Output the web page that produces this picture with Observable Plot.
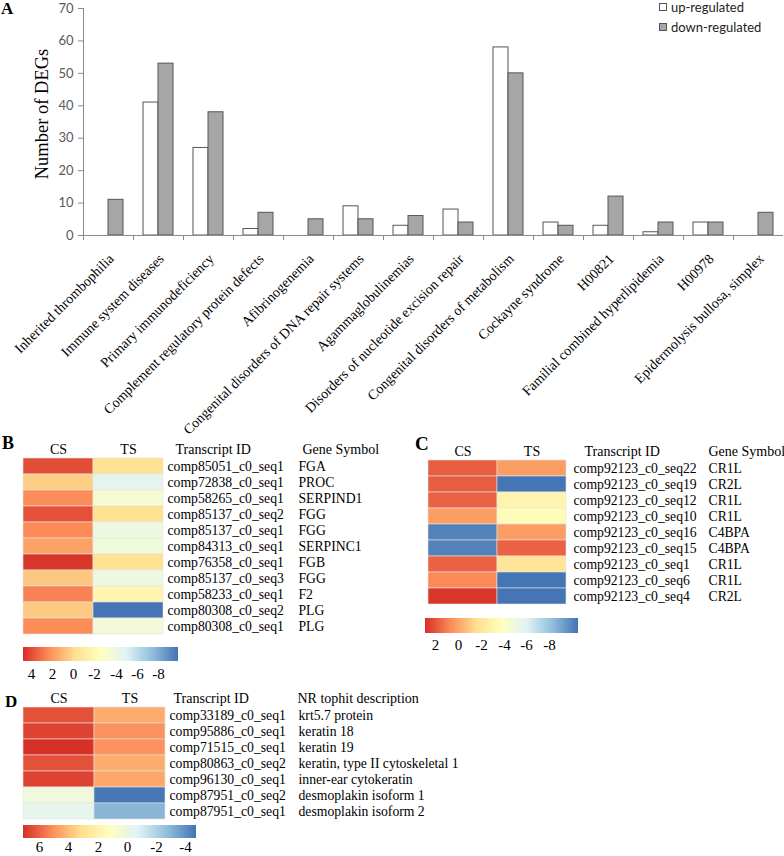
<!DOCTYPE html>
<html><head><meta charset="utf-8">
<script src="https://cdn.jsdelivr.net/npm/d3@7"></script>
<script src="https://cdn.jsdelivr.net/npm/@observablehq/plot@0.6"></script>
<style>
body{margin:0;background:#fff;}
#fig{position:relative;width:784px;height:856px;overflow:hidden;background:#fff;}
.abs{position:absolute;}
.abs svg g.tick line{display:none;}
.panel{position:absolute;font-family:"Liberation Serif",serif;font-weight:bold;line-height:1;color:#000;}
.lg{position:absolute;font-family:Lato,"Open Sans",sans-serif;font-size:13px;line-height:15px;color:#222;white-space:nowrap;}
.box{position:absolute;width:8px;height:8px;box-sizing:border-box;border:1px solid #555;}
</style></head><body><div id="fig"></div>
<script>
// ---------- Panel A data ----------
const categories = ["Inherited thrombophilia","Immune system diseases","Primary immunodeficiency",
  "Complement regulatory protein defects","Afibrinogenemia","Congenital disorders of DNA repair systems",
  "Agammaglobulinemias","Disorders of nucleotide excision repair","Congenital disorders of metabolism",
  "Cockayne syndrome","H00821","Familial combined hyperlipidemia","H00978","Epidermolysis bullosa, simplex"];
const upRegulated   = [0, 41, 27, 2, 0, 9, 3, 8, 58, 4, 3, 1, 4, 0];
const downRegulated = [11, 53, 38, 7, 5, 5, 6, 4, 50, 3, 12, 4, 4, 7];
const yTicks = [0, 10, 20, 30, 40, 50, 60, 70];
const seriesNames = ["up-regulated", "down-regulated"];
const yLabel = "Number of DEGs";

// ---------- Panel B data ----------
const bTranscripts = ["comp85051_c0_seq1","comp72838_c0_seq1","comp58265_c0_seq1","comp85137_c0_seq2",
  "comp85137_c0_seq1","comp84313_c0_seq1","comp76358_c0_seq1","comp85137_c0_seq3","comp58233_c0_seq1",
  "comp80308_c0_seq2","comp80308_c0_seq1"];
const bGenes = ["FGA","PROC","SERPIND1","FGG","FGG","SERPINC1","FGB","FGG","F2","PLG","PLG"];
const bCS = [4.0, 0.4, 2.3, 3.9, 2.4, 1.7, 4.6, 0.6, 2.6, 0.5, 2.3];
const bTS = [-0.2, -4.6, -3.3, -0.2, -4.0, -3.75, -0.2, -4.0, -1.8, -9.9, -3.6];
const bLegendTicks = [4, 2, 0, -2, -4, -6, -8];
const bRange = [-9.9, 4.75];

// ---------- Panel C data ----------
const cTranscripts = ["comp92123_c0_seq22","comp92123_c0_seq19","comp92123_c0_seq12","comp92123_c0_seq10",
  "comp92123_c0_seq16","comp92123_c0_seq15","comp92123_c0_seq1","comp92123_c0_seq6","comp92123_c0_seq4"];
const cGenes = ["CR1L","CR2L","CR1L","CR1L","C4BPA","C4BPA","CR1L","CR1L","CR2L"];
const cCS = [1.8, 1.8, 1.65, 0.2, -10.1, -10.1, 1.65, 0.7, 2.7];
const cTS = [0.2, -10.5, -3.0, -3.6, 0.2, 1.65, -1.95, -10.5, -10.5];
const cLegendTicks = [2, 0, -2, -4, -6, -8];
const cRange = [-10.5, 2.85];

// ---------- Panel D data ----------
const dTranscripts = ["comp33189_c0_seq1","comp95886_c0_seq1","comp71515_c0_seq1","comp80863_c0_seq2",
  "comp96130_c0_seq1","comp87951_c0_seq2","comp87951_c0_seq1"];
const dDescriptions = ["krt5.7 protein","keratin 18","keratin 19","keratin, type II cytoskeletal 1",
  "inner-ear cytokeratin","desmoplakin isoform 1","desmoplakin isoform 2"];
const dCS = [6.4, 6.7, 7.1, 6.4, 6.7, 0.2, -0.4];
const dTS = [4.4, 5.0, 5.0, 4.4, 4.5, -4.7, -3.0];
const dLegendTicks = [6, 4, 2, 0, -2, -4];
const dRange = [-4.74, 7.1];

const samples = ["CS", "TS"];
const palette = ["#d73027","#fc8d59","#fee090","#ffffbf","#e0f3f8","#91bfdb","#4575b4"];
const interpHiLo = d3.piecewise(d3.interpolateRgb, palette);            // red -> blue
const interpLoHi = d3.piecewise(d3.interpolateRgb, palette.slice().reverse()); // blue -> red
const SERIF = "'Liberation Serif', 'Times New Roman', serif";
const SANS = "Lato, 'Open Sans', sans-serif";

const fig = document.getElementById("fig");
function place(el, left, top) {
  const w = document.createElement("div");
  w.className = "abs"; w.style.left = left + "px"; w.style.top = top + "px";
  w.appendChild(el); fig.appendChild(w); return w;
}
function addText(cls, text, left, top, size) {
  const d = document.createElement("div");
  d.className = cls; d.textContent = text;
  d.style.left = left + "px"; d.style.top = top + "px";
  if (size) d.style.fontSize = size + "px";
  fig.appendChild(d); return d;
}

// ---------- Panel A ----------
const barRows = categories.flatMap((c, i) => [
  {category: c, series: seriesNames[0], value: upRegulated[i]},
  {category: c, series: seriesNames[1], value: downRegulated[i]}
]);
const plotA = Plot.plot({
  width: 784, height: 425, marginTop: 8, marginBottom: 190, marginLeft: 83, marginRight: 1,
  x: {domain: categories, padding: 0, axis: null},
  y: {domain: [0, 70], axis: null},
  style: {fontFamily: SANS, background: "transparent", overflow: "visible"},
  marks: [
    Plot.frame({anchor: "left", stroke: "#8c8c8c"}),
    Plot.axisY({ticks: yTicks, label: null, tickSize: 5, tickPadding: 5, stroke: "#8c8c8c", fill: "#595959", fontSize: 13, fontFamily: SANS}),
    Plot.barY(barRows.filter(d => d.series === seriesNames[0] && d.value > 0),
      {x: "category", y: "value", fill: "white", stroke: "#555", strokeWidth: 1, insetLeft: 10, insetRight: 25}),
    Plot.barY(barRows.filter(d => d.series === seriesNames[1] && d.value > 0),
      {x: "category", y: "value", fill: "#a6a6a6", stroke: "#555", strokeWidth: 1, insetLeft: 25, insetRight: 10}),
    Plot.ruleY([0], {stroke: "#8c8c8c"}),
    Plot.axisX({label: null, tickSize: 5, tickFormat: () => "", dx: -25, stroke: "#8c8c8c"}),
    Plot.axisX({label: null, tickSize: 0, tickRotate: -45, tickPadding: 21, dx: 3, fontFamily: SERIF, fontSize: 14, fill: "#000"}),
    Plot.text([yLabel], {frameAnchor: "left", textAnchor: "middle", rotate: -90, dx: -41, dy: -8, fontSize: 18.5, fontFamily: SERIF, fill: "#000"})
  ]
});
place(plotA, 0, 0);

// legend A
const b1 = document.createElement("div"); b1.className = "box"; b1.style.left = "659px"; b1.style.top = "3px"; b1.style.background = "#fff"; fig.appendChild(b1);
const b2 = document.createElement("div"); b2.className = "box"; b2.style.left = "659px"; b2.style.top = "23px"; b2.style.background = "#a6a6a6"; fig.appendChild(b2);
addText("lg", seriesNames[0], 671, 0);
addText("lg", seriesNames[1], 671, 20);

// ---------- heatmap helper ----------
function heatmap(o) {
  const rows = o.ids.flatMap((id, i) => [
    {id, sample: samples[0], value: o.cs[i]},
    {id, sample: samples[1], value: o.ts[i]}
  ]);
  const labels = o.ids.map((id, i) => ({id, label: o.labels[i]}));
  return Plot.plot({
    width: o.width, height: o.height, marginTop: 20, marginBottom: 0,
    marginLeft: o.marginLeft, marginRight: o.marginRight,
    x: {domain: samples, padding: 0, axis: null},
    y: {domain: o.ids, padding: 0, axis: null},
    color: {type: "linear", domain: o.range, interpolate: interpLoHi, clamp: true},
    style: {fontFamily: SERIF, fontSize: "14px", background: "transparent", overflow: "visible", color: "#000"},
    marks: [
      Plot.cell(rows, {x: "sample", y: "id", fill: "value", stroke: "#e4e4e4", strokeWidth: 0.6}),
      Plot.axisX({anchor: "top", label: null, tickSize: 0, tickPadding: o.headPad, fontSize: 14, fontFamily: SERIF, fill: "#000"}),
      Plot.text(o.ids, {y: d => d, text: d => d, frameAnchor: "right", textAnchor: "start", dx: o.idDx, fontSize: 13.7, fill: "#000"}),
      Plot.text(labels, {y: "id", text: "label", frameAnchor: "right", textAnchor: "start", dx: o.labDx, fontSize: 13.7, fill: "#000"}),
      Plot.text(["Transcript ID"], {frameAnchor: "top-right", textAnchor: "start", lineAnchor: "bottom", dx: o.idHeadDx, dy: -o.headPad, fontSize: 14, fill: "#000"}),
      Plot.text([o.labelHeader], {frameAnchor: "top-right", textAnchor: "start", lineAnchor: "bottom", dx: o.labHeadDx, dy: -o.headPad, fontSize: 14, fill: "#000"})
    ]
  });
}
function ramp(range, ticks, width, barH, tickGap) {
  return Plot.legend({
    color: {type: "linear", domain: [range[1], range[0]], interpolate: interpHiLo},
    width, height: barH + 26, marginTop: 0, marginBottom: 26, marginLeft: 0, marginRight: 0,
    ticks, tickSize: tickGap, tickFormat: d => String(d), label: null,
    style: {fontFamily: SERIF, fontSize: "15px", color: "#000", background: "transparent", overflow: "visible"}
  });
}

// ---------- Panel B ----------
addText("panel", "B", 2, 434, 18);
place(heatmap({ids: bTranscripts, labels: bGenes, cs: bCS, ts: bTS, range: bRange,
  width: 380, height: 198, marginLeft: 23, marginRight: 217, headPad: 4,
  idDx: 4, labDx: 135, idHeadDx: 12, labHeadDx: 139, labelHeader: "Gene Symbol"}), 0, 437);
place(ramp(bRange, bLegendTicks, 155, 14, 4), 23, 647);

// ---------- Panel C ----------
addText("panel", "C", 415, 434, 19);
place(heatmap({ids: cTranscripts, labels: cGenes, cs: cCS, ts: cTS, range: cRange,
  width: 404, height: 168, marginLeft: 47, marginRight: 218, headPad: 3,
  idDx: 7, labDx: 142, idHeadDx: 18, labHeadDx: 142, labelHeader: "Gene Symbol"}), 380, 438);
place(ramp(cRange, cLegendTicks, 153, 15, 3), 425, 618);

// ---------- Panel D ----------
addText("panel", "D", 5, 693, 17);
place(heatmap({ids: dTranscripts, labels: dDescriptions, cs: dCS, ts: dTS, range: dRange,
  width: 400, height: 134, marginLeft: 23, marginRight: 235, headPad: 4,
  idDx: 4, labDx: 133, idHeadDx: 8, labHeadDx: 132, labelHeader: "NR tophit description"}), 0, 686);
place(ramp(dRange, dLegendTicks, 173, 13, 0), 23, 825);

addText("panel", "A", 1, 0, 17);
</script></body></html>
